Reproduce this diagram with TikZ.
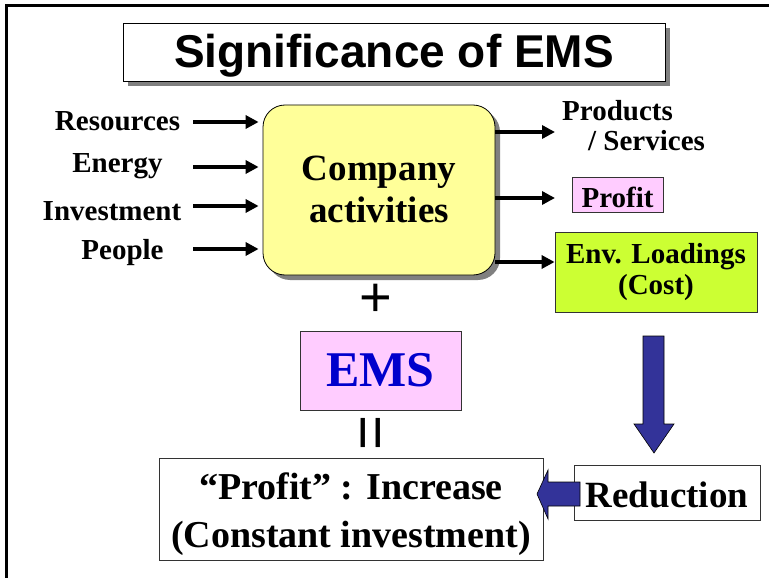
\documentclass[tikz,border=0pt]{standalone}
\usepackage{fontspec}
\setmainfont{Liberation Serif}
\setsansfont{Liberation Sans}
\usetikzlibrary{arrows.meta,shadows}
\definecolor{boxyellow}{HTML}{FFFF99}
\definecolor{boxpink}{HTML}{FFCCFF}
\definecolor{boxlime}{HTML}{CCFF33}
\definecolor{emsblue}{HTML}{0000CC}
\definecolor{arrowblue}{HTML}{333399}
\definecolor{shadowgray}{HTML}{808080}
\newcommand{\lowerby}[2]{\raisebox{-#1}[\height][\depth]{#2}}
\begin{document}
\begin{tikzpicture}[x=1pt,y=-1pt,
  lbl/.style={inner sep=0pt,font=\bfseries\fontsize{29}{30}\selectfont},
  plainbox/.style={draw=black!80,line width=0.8pt,inner sep=0pt,align=center},
  shad/.style={drop shadow={shadow xshift=5pt,shadow yshift=-5pt,fill=shadowgray,opacity=1}},
  blk/.style={line width=3.5pt,-{Triangle[length=13pt,width=13pt]}},
  bluearrow/.style={fill=arrowblue,draw=black,line width=0.6pt,line join=miter}]
\useasboundingbox (0,0) rectangle (769,578);
% frame
\draw[line width=3pt] (6,578) -- (6,5.5) -- (769,5.5);
% title
\node[plainbox,shad,fill=white,draw=black,minimum width=542pt,minimum height=58pt] (title) at (394,52)
  {\lowerby{4pt}{\sffamily\bfseries\fontsize{46}{50}\selectfont Significance of EMS}};
% company activities
\node[plainbox,shad,fill=boxyellow,draw=black,rounded corners=22pt,minimum width=232pt,minimum height=170pt,
  font=\bfseries\fontsize{37}{42}\selectfont] (ca) at (379,190) {\lowerby{3pt}{\begin{tabular}{@{}c@{}}Company\\[0pt]activities\end{tabular}}};
% input labels
\node[lbl,anchor=base] (res) at (117.5,130) {Resources};
\node[lbl,anchor=base] (ene) at (117.5,172) {Energy};
\node[lbl,anchor=base] (inv) at (112,220) {Investment};
\node[lbl,anchor=base] (peo) at (122.5,259) {People};
\coordinate (a1) at (193,122);
\coordinate (a2) at (193,167);
\coordinate (a3) at (193,206);
\coordinate (a4) at (193,249);
\foreach \c in {a1,a2,a3,a4}{
  \draw[blk,shorten >=4pt] (\c) -- (\c -| ca.west);
}
% outputs
\node[lbl,anchor=west,align=left] (prod) at (562,126) {Products\\\hspace*{26pt}/ Services};
\node[plainbox,fill=boxpink,minimum width=91pt,minimum height=35pt,font=\bfseries\fontsize{29}{30}\selectfont] (pf) at (617.5,194.5) {\lowerby{3pt}{Profit}};
\node[plainbox,fill=boxlime,minimum width=202pt,minimum height=80pt,font=\bfseries\fontsize{29}{31}\selectfont] (env) at (656,272) {\lowerby{1pt}{\begin{tabular}{@{}c@{}}Env. Loadings\\(Cost)\end{tabular}}};
\coordinate (o1) at (555,132);
\coordinate (o2) at (555,198);
\draw[blk] (ca.east |- o1) -- (o1);
\draw[blk] (ca.east |- o2) -- (o2);
\draw[blk] (ca.east |- 0,262) -- (env.west |- 0,262);
% plus, EMS, equals
\node[inner sep=0pt,font=\sffamily\fontsize{56}{56}\selectfont] (plus) at (376,300) {+};
\node[plainbox,fill=boxpink,minimum width=161pt,minimum height=79pt,
  font=\bfseries\fontsize{50}{50}\selectfont,text=emsblue] (ems) at (380.5,370.5) {EMS};
\node[inner sep=0pt,rotate=90,font=\sffamily\fontsize{60}{60}\selectfont] (eq) at (376,433) {=};
% result boxes
\node[plainbox,minimum width=384pt,minimum height=102pt,font=\bfseries\fontsize{38}{47}\selectfont] (inc) at (351,509)
  {\lowerby{5pt}{\begin{tabular}{@{}c@{}}“Profit” : Increase\\[1pt](Constant investment)\end{tabular}}};
\node[plainbox,minimum width=186pt,minimum height=55pt,font=\bfseries\fontsize{37}{40}\selectfont] (red) at (667,492.5) {\lowerby{2pt}{Reduction}};
% block arrows
\draw[bluearrow] (643,336) -- (664,336) -- (664,424) -- (674,424) -- (654,453) -- (634,424) -- (643,424) -- cycle;
\draw[bluearrow] (580,482) -- (548,482) -- (548,470) -- (537,494) -- (548,519) -- (548,506) -- (580,506) -- cycle;
\end{tikzpicture}
\end{document}
